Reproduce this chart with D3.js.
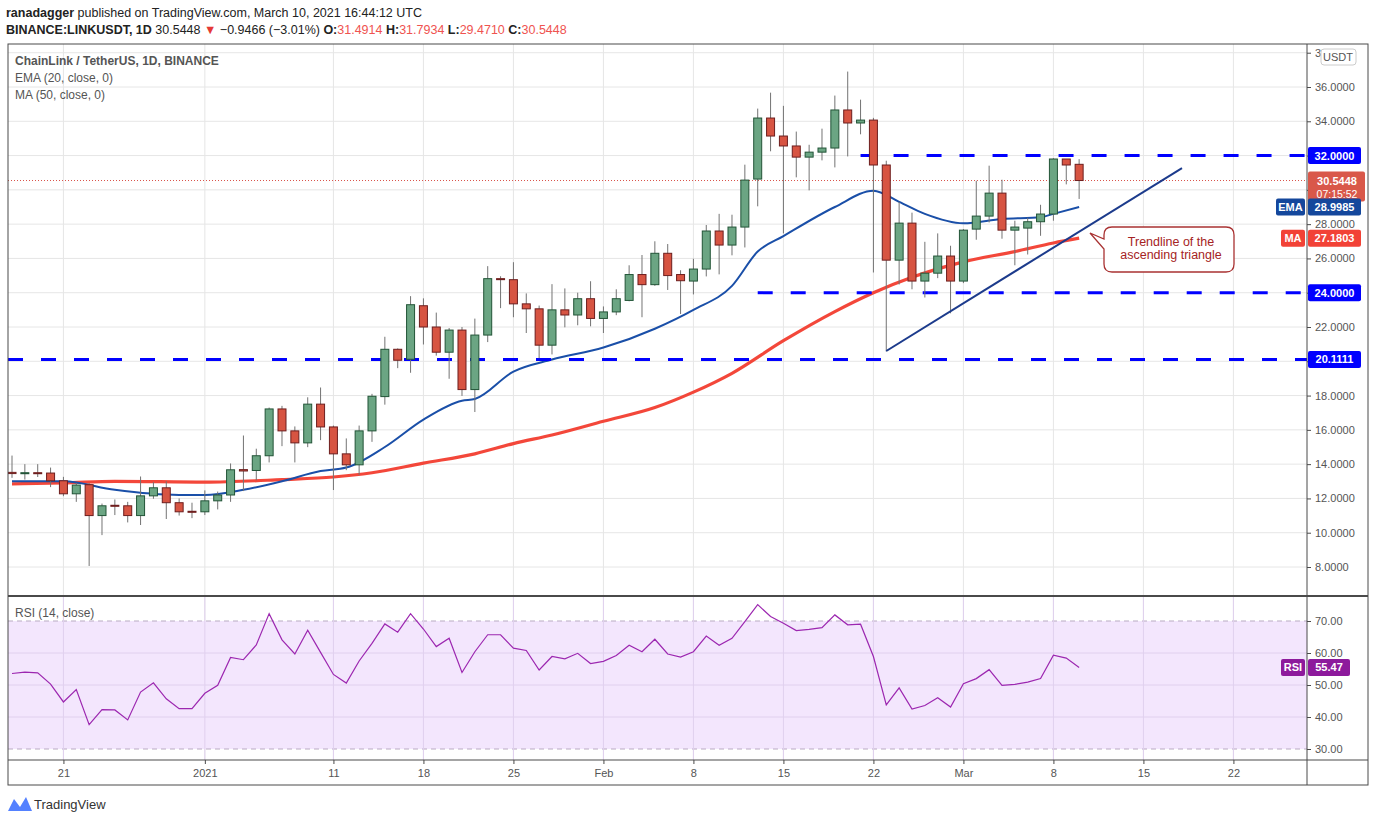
<!DOCTYPE html>
<html><head><meta charset="utf-8">
<script src="https://cdn.jsdelivr.net/npm/d3@7/dist/d3.min.js"></script>
<style>body{margin:0;background:#fff;font-family:"Liberation Sans",Arial,sans-serif}</style>
</head><body><svg id="c" width="1376" height="823"></svg>
<script>
const startDate = "2020-12-17";
// OHLC per day from Dec 17 2020 to Mar 10 2021
const opens  = [13.52,13.45,13.5,13.48,13.03,12.27,12.8,11.0,11.6,11.57,11.0,12.15,12.62,11.75,11.25,
11.22,11.86,12.2,13.68,13.63,14.49,17.22,15.94,15.24,17.5,16.17,14.6,13.96,15.94,17.94,20.7,20.12,23.24,22.0,20.53,21.82,18.35,21.53,24.82,24.76,23.35,23.06,20.94,23.0,22.7,23.65,
22.5,22.88,23.55,25.06,24.47,26.3,25.06,24.68,25.38,27.6,26.78,27.83,30.63,34.19,33.14,32.56,31.91,32.2,32.44,34.66,33.9,34.07,31.45,25.9,28.06,24.68,25.14,26.14,
24.68,27.71,28.47,29.81,27.65,27.77,28.14,28.59,31.8,31.49];
const highs  = [14.5,14.0,14.0,13.8,13.26,12.9,12.9,11.7,11.94,11.8,13.28,12.95,13.0,12.0,11.75,
12.47,12.4,14.04,15.67,14.9,17.3,17.4,16.2,17.9,18.47,16.25,15.5,16.25,18.1,21.43,20.75,23.8,23.67,22.84,21.94,22.0,22.49,25.55,24.96,25.78,23.96,23.25,24.5,24.25,24.0,24.67,
23.2,24.2,25.6,26.2,27.0,26.84,25.31,25.98,27.95,28.6,28.55,31.47,34.74,35.67,34.9,33.4,32.63,33.57,35.5,36.9,35.26,34.2,31.7,29.3,28.67,26.97,27.46,26.74,
27.71,30.53,31.41,30.59,28.2,28.37,29.13,31.85,31.8,31.79];
const lows   = [13.2,13.1,13.25,12.66,12.13,11.8,8.06,9.86,11.03,10.6,10.45,11.98,10.8,11.0,10.85,
11.03,11.36,11.8,12.43,13.06,14.1,15.05,14.1,14.99,15.4,12.49,13.65,13.36,15.3,17.47,19.6,19.33,20.98,20.33,18.98,17.98,17.04,21.12,23.1,22.57,21.65,20.18,20.4,21.98,22.1,22.04,
21.65,22.69,23.5,22.57,24.4,24.16,22.76,23.9,24.95,25.07,26.18,26.64,29.04,32.25,27.46,30.73,29.97,31.72,31.31,31.95,33.24,25.18,20.57,24.48,24.2,23.72,24.85,22.8,
24.56,27.09,28.1,27.15,25.6,26.23,27.32,28.2,30.32,29.47];
const closes = [13.45,13.5,13.45,13.03,12.27,12.78,11.0,11.57,11.55,11.0,12.15,12.62,11.75,11.22,11.2,
11.86,12.2,13.67,13.6,14.49,17.22,15.94,15.24,17.5,16.17,14.6,13.96,15.94,17.96,20.7,20.06,23.3,22.0,20.53,21.82,18.35,21.53,24.82,24.78,23.35,23.06,20.94,23.0,22.7,23.65,22.5,
22.88,23.65,25.06,24.47,26.3,25.0,24.7,25.38,27.6,26.78,27.83,30.57,34.19,33.14,32.56,31.91,32.2,32.44,34.66,33.9,34.07,31.45,25.9,28.06,24.68,25.14,26.14,24.68,
27.65,28.47,29.81,27.65,27.83,28.14,28.59,31.8,31.45,30.5448];
// EMA 20 and MA 50 readings [date, value]
const emaDates = ["2020-12-17","2020-12-21","2020-12-25","2020-12-30","2021-01-01","2021-01-04","2021-01-07","2021-01-10","2021-01-12","2021-01-15","2021-01-18","2021-01-21","2021-01-22","2021-01-25","2021-01-28","2021-02-01","2021-02-05","2021-02-08","2021-02-11","2021-02-13","2021-02-15","2021-02-19","2021-02-22","2021-02-24","2021-02-26","2021-03-01","2021-03-04","2021-03-07","2021-03-08","2021-03-10"];
const emaVals = [13.0,13.0,12.5,12.2,12.2,12.5,13.0,13.6,13.8,15.0,16.6,17.7,17.8,19.4,20.1,20.8,21.9,23.0,24.4,26.4,27.3,29.0,29.95,29.3,28.6,28.05,28.3,28.4,28.6,28.9985];
const maDates = ["2020-12-17","2020-12-21","2020-12-25","2021-01-01","2021-01-07","2021-01-11","2021-01-14","2021-01-18","2021-01-22","2021-01-25","2021-01-28","2021-02-01","2021-02-05","2021-02-08","2021-02-11","2021-02-15","2021-02-19","2021-02-22","2021-02-25","2021-03-01","2021-03-05","2021-03-08","2021-03-10"];
const maVals = [12.85,12.9,13.0,12.95,13.1,13.25,13.5,14.06,14.6,15.2,15.7,16.5,17.3,18.2,19.3,21.2,22.9,24.0,24.9,25.8,26.4,26.9,27.1803];
const rsiVals = [53.6,54.0,53.8,50.3,44.7,48.6,37.6,42.3,42.2,39.1,47.8,50.7,45.7,42.6,42.6,47.4,49.9,58.6,57.9,62.5,72.3,64.1,59.7,67.1,60.2,53.3,50.6,57.5,63.0,69.1,66.5,72.3,67.5,62.0,64.6,53.9,60.4,65.7,65.7,61.5,60.8,54.7,58.9,
58.2,59.9,56.7,57.4,59.2,62.4,60.4,64.3,59.7,58.7,60.4,65.3,62.4,64.6,69.8,75.1,71.4,69.3,67.0,67.4,67.9,71.9,68.8,69.0,58.9,43.8,49.1,42.5,43.6,46.0,43.1,50.4,52.0,54.8,49.9,50.2,50.9,52.0,59.3,58.4,55.47];
const levels = [{v:32,from:"2021-02-21"},{v:24,from:"2021-02-13"},{v:20.1111,from:"2020-12-16"}];
const trend = [["2021-02-23",20.6],["2021-03-18",31.27]];
const priceTicks = d3.range(8,38.01,2);
const rsiTicks = [30,40,50,60,70];
const dateTicks = [["2020-12-21","21"],["2021-01-01","2021"],["2021-01-11","11"],["2021-01-18","18"],["2021-01-25","25"],["2021-02-01","Feb"],["2021-02-08","8"],["2021-02-15","15"],["2021-02-22","22"],["2021-03-01","Mar"],["2021-03-08","8"],["2021-03-15","15"],["2021-03-22","22"]];

const P = d3.timeParse("%Y-%m-%d");
const d0 = P(startDate);
const candles = opens.map((o,i)=>({d:d3.timeDay.offset(d0,i),o,h:highs[i],l:lows[i],c:closes[i]}));
const svg = d3.select("#c");
const L=8,R=1307,T=44,MB=595,RT=597,RB=760;
const x = d3.scaleTime().domain([d0,P("2021-03-10")]).range([12,12+83*12.857]);
const y = d3.scaleLinear().domain([8,36]).range([567,87]);
const yr = d3.scaleLinear().domain([30,70]).range([749,621]);
const grid="#e6e6e6", axc="#4a4a4a", tc="#555";

svg.append("defs").append("clipPath").attr("id","mc").append("rect").attr("x",L).attr("y",T).attr("width",R-L).attr("height",MB-T);
const g = svg.append("g");
dateTicks.forEach(([d])=>{g.append("line").attr("x1",x(P(d))).attr("x2",x(P(d))).attr("y1",T).attr("y2",RB).attr("stroke",grid);});
priceTicks.forEach(v=>{if(y(v)>T) g.append("line").attr("x1",L).attr("x2",R).attr("y1",y(v)).attr("y2",y(v)).attr("stroke",grid);});
svg.append("rect").attr("x",L).attr("width",R-L).attr("y",yr(70)).attr("height",yr(30)-yr(70)).attr("fill","#f3e6fd");
[40,50,60].forEach(v=>svg.append("line").attr("x1",L).attr("x2",R).attr("y1",yr(v)).attr("y2",yr(v)).attr("stroke","#e0d0ee"));
[30,70].forEach(v=>svg.append("line").attr("x1",L).attr("x2",R).attr("y1",yr(v)).attr("y2",yr(v)).attr("stroke","#b9abc2").attr("stroke-dasharray","5,4"));
dateTicks.forEach(([d])=>{svg.append("line").attr("x1",x(P(d))).attr("x2",x(P(d))).attr("y1",RT).attr("y2",RB).attr("stroke","#e0d0ee");});

const mg = svg.append("g").attr("clip-path","url(#mc)");
const lineT = d3.line().x(d=>x(d[0])).y(d=>y(d[1])).curve(d3.curveMonotoneX);
mg.append("path").attr("d",lineT(maDates.map((d,i)=>[P(d),maVals[i]]))).attr("fill","none").attr("stroke","#f23d2f").attr("stroke-width",3.2).attr("opacity",0.95);
mg.append("path").attr("d",lineT(emaDates.map((d,i)=>[P(d),emaVals[i]]))).attr("fill","none").attr("stroke","#1a4fa8").attr("stroke-width",2);
levels.forEach(l=>mg.append("line").attr("x1",Math.max(L,x(P(l.from)))).attr("x2",R).attr("y1",y(l.v)).attr("y2",y(l.v)).attr("stroke","#0000ff").attr("stroke-width",3).attr("stroke-dasharray","15,18"));
mg.append("line").attr("x1",L).attr("x2",R).attr("y1",y(30.5448)).attr("y2",y(30.5448)).attr("stroke","#d9534a").attr("stroke-dasharray","1,2");
const cg = mg.selectAll("g.c").data(candles).join("g");
cg.append("line").attr("x1",d=>x(d.d)).attr("x2",d=>x(d.d)).attr("y1",d=>y(d.h)).attr("y2",d=>y(d.l)).attr("stroke","#737373");
cg.append("rect").attr("x",d=>x(d.d)-4).attr("width",8)
 .attr("y",d=>y(Math.max(d.o,d.c))).attr("height",d=>Math.max(1,Math.abs(y(d.o)-y(d.c))))
 .attr("fill",d=>d.c>=d.o?"#6ba583":"#d75442").attr("stroke",d=>d.c>=d.o?"#225437":"#6d1e1e").attr("stroke-width",1);
mg.append("line").attr("x1",x(P(trend[0][0]))).attr("y1",y(trend[0][1])).attr("x2",x(P(trend[1][0]))).attr("y2",y(trend[1][1])).attr("stroke","#1c3b8c").attr("stroke-width",2);
const cx=1104,cy=227,cw=130,ch=45;
svg.append("path").attr("d",`M${cx+8},${cy} H${cx+cw-8} Q${cx+cw},${cy} ${cx+cw},${cy+8} V${cy+ch-8} Q${cx+cw},${cy+ch} ${cx+cw-8},${cy+ch} H${cx+8} Q${cx},${cy+ch} ${cx},${cy+ch-8} V${cy+22} L${cx-14},${cy+6} L${cx},${cy+12} V${cy+8} Q${cx},${cy} ${cx+8},${cy} Z`).attr("fill","#fff").attr("stroke","#a93232").attr("stroke-width",1.3);
svg.append("text").attr("x",cx+cw/2+2).attr("y",cy+19).attr("text-anchor","middle").attr("fill","#a52323").attr("font-size",12.5).text("Trendline of the");
svg.append("text").attr("x",cx+cw/2+2).attr("y",cy+32).attr("text-anchor","middle").attr("fill","#a52323").attr("font-size",12.5).text("ascending triangle");
svg.append("path").attr("d",d3.line().x((d,i)=>x(d3.timeDay.offset(d0,i))).y(d=>yr(d))(rsiVals)).attr("fill","none").attr("stroke","#9c27b0").attr("stroke-width",1.2);

svg.append("rect").attr("x",L).attr("y",T).attr("width",1368-L).attr("height",785-T).attr("fill","none").attr("stroke",axc);
svg.append("line").attr("x1",R).attr("x2",R).attr("y1",T).attr("y2",785).attr("stroke",axc);
svg.append("line").attr("x1",L).attr("x2",1368).attr("y1",596).attr("y2",596).attr("stroke",axc).attr("stroke-width",2);
svg.append("line").attr("x1",L).attr("x2",1368).attr("y1",RB).attr("y2",RB).attr("stroke",axc);

svg.select("defs").append("clipPath").attr("id","ac").append("rect").attr("x",0).attr("y",T+1).attr("width",61).attr("height",550);
const ay = svg.append("g").attr("transform",`translate(${R},0)`).attr("clip-path","url(#ac)").call(d3.axisRight(y).tickValues(priceTicks).tickFormat(d3.format(".4f")).tickSize(4).tickPadding(4));
ay.select(".domain").remove();
ay.selectAll("text").attr("fill",tc).attr("font-size",11);
ay.selectAll("line").attr("stroke",axc);
const ar = svg.append("g").attr("transform",`translate(${R},0)`).call(d3.axisRight(yr).tickValues(rsiTicks).tickFormat(d3.format(".2f")).tickSize(4).tickPadding(4));
ar.select(".domain").remove();
ar.selectAll("text").attr("fill",tc).attr("font-size",11);
ar.selectAll("line").attr("stroke",axc);
const ax = svg.append("g").attr("transform",`translate(0,${RB})`).call(d3.axisBottom(x).tickValues(dateTicks.map(d=>P(d[0]))).tickFormat((d,i)=>dateTicks[i][1]).tickSize(4).tickPadding(5));
ax.select(".domain").remove();
ax.selectAll("text").attr("fill",tc).attr("font-size",11);
ax.selectAll("line").attr("stroke",axc);

function tag(yy,txt,fill,x0=R+1,w=53,h=17,col="#fff"){
 svg.append("rect").attr("x",x0).attr("y",yy-h/2).attr("width",w).attr("height",h).attr("rx",2).attr("fill",fill);
 svg.append("text").attr("x",x0+w/2).attr("y",yy+4).attr("text-anchor","middle").attr("fill",col).attr("font-size",11).attr("font-weight","bold").text(txt);
}
tag(y(32),"32.0000","#0000ff");
tag(y(24),"24.0000","#0000ff");
tag(y(20.1111),"20.1111","#0000ff");
svg.append("rect").attr("x",R+1).attr("y",y(30.5448)-9).attr("width",57).attr("height",30).attr("rx",2).attr("fill","#d9584a");
svg.append("text").attr("x",R+30).attr("y",y(30.5448)+4).attr("text-anchor","middle").attr("fill","#fff").attr("font-size",11).attr("font-weight","bold").text("30.5448");
svg.append("text").attr("x",R+30).attr("y",y(30.5448)+17).attr("text-anchor","middle").attr("fill","#fff").attr("font-size",10.5).text("07:15:52");
tag(y(28.9985),"28.9985","#14479c");
tag(y(28.9985),"EMA","#14479c",1276,29);
tag(y(27.1803),"27.1803","#f24236");
tag(y(27.1803),"MA","#f24236",1281,24);
tag(yr(55.47),"55.47","#8d1a9c",R+1,42);
tag(yr(55.47),"RSI","#8d1a9c",1281,24);
svg.append("rect").attr("x",1321).attr("y",49).attr("width",35).attr("height",16).attr("rx",3).attr("fill","#fff").attr("stroke","#ccc");
svg.append("text").attr("x",1338).attr("y",61).attr("text-anchor","middle").attr("fill","#555").attr("font-size",11).text("USDT");

const h1 = svg.append("text").attr("x",6).attr("y",17).attr("font-size",12.5).attr("fill","#222");
h1.append("tspan").attr("font-weight","bold").text("ranadagger");
h1.append("tspan").text(" published on TradingView.com, March 10, 2021 16:44:12 UTC");
const h2 = svg.append("text").attr("x",6).attr("y",34).attr("font-size",12.5).attr("fill","#222");
h2.append("tspan").attr("font-weight","bold").text("BINANCE:LINKUSDT, 1D");
h2.append("tspan").text(" 30.5448 ");
h2.append("tspan").attr("fill","#e53935").text("▼");
h2.append("tspan").text(" −0.9466 (−3.01%) ");
[["O:","31.4914"],["H:","31.7934"],["L:","29.4710"],["C:","30.5448"]].forEach(([a,b])=>{h2.append("tspan").attr("font-weight","bold").text(a);h2.append("tspan").attr("fill","#ef5350").text(b+" ");});
svg.append("text").attr("x",15).attr("y",65).attr("font-size",12).attr("font-weight","bold").attr("fill","#555").text("ChainLink / TetherUS, 1D, BINANCE");
svg.append("text").attr("x",15).attr("y",82).attr("font-size",12).attr("fill","#555").text("EMA (20, close, 0)");
svg.append("text").attr("x",15).attr("y",99).attr("font-size",12).attr("fill","#555").text("MA (50, close, 0)");
svg.append("text").attr("x",15).attr("y",617).attr("font-size",12).attr("fill","#555").text("RSI (14, close)");
svg.append("path").attr("d","M8,811 L14,799 L20,807 L26,797 L32,811 Z").attr("fill","#2962ff").attr("opacity",0.8);
svg.append("text").attr("x",34).attr("y",809).attr("font-size",13).attr("fill","#333").text("TradingView");
</script></body></html>
